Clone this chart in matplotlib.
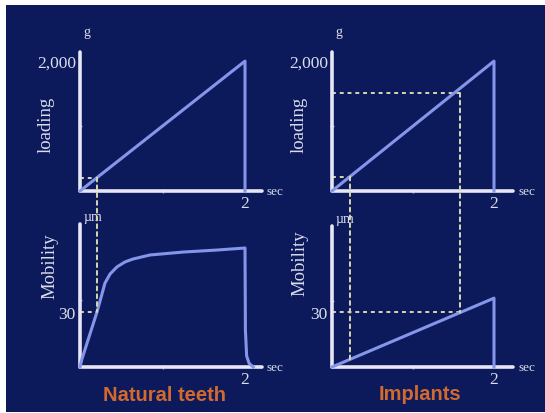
import numpy as np
import matplotlib
matplotlib.use("Agg")
import matplotlib.pyplot as plt
from matplotlib.patches import Rectangle, ConnectionPatch

# loading curve (same for both columns)
load_t = [0, 2.0, 2.0]
load_g = [0, 2000, 0]

# natural tooth mobility (um) vs time (sec)
nat_t = [0, 0.024, 0.206, 0.303, 0.364, 0.448, 0.545, 0.642, 0.848, 1.25, 1.66, 2.0,
         2.005, 2.02, 2.05, 2.1]
nat_um = [0, 4.4, 30, 45.8, 50.7, 54.6, 57.3, 58.9, 61.1, 62.7, 63.8, 64.9,
          20, 6, 2, 0]

# implant mobility
imp_t = [0, 2.0, 2.0]
imp_um = [0, 37.6, 0]

# guide lines: (time, load, mobility)
nat_guide = [(0.206, 206, 30)]
imp_guide = [(0.222, 222, 4.2), (1.58, 1510, 29.7)]

titles = ["Natural teeth", "Implants"]

BG = "#0c1a5c"
AXC = "#e6e6f4"
CURVE = "#8595ea"
DASH = "#d8d8b0"
TXT = "#dcdcec"
ORANGE = "#d2692e"
SERIF = "Liberation Serif"

W, H = 545, 414
fig = plt.figure(figsize=(W / 100, H / 100), dpi=100)
fig.patch.set_facecolor("white")
fig.patches.append(Rectangle((6 / W, 1 / H), 1 - 6 / W, (413 - 6) / H,
                             transform=fig.transFigure, facecolor=BG,
                             edgecolor="none", zorder=-10))


def px_axes(x0, y_top, w, h):
    return fig.add_axes([x0 / W, (H - y_top - h) / H, w / W, h / H])


def style(ax, xmax, ymax, ytick, ylab, unit, ylabel, lab_xy, unit_y):
    ax.set_facecolor("none")
    ax.set_xlim(0, xmax)
    ax.set_ylim(0, ymax)
    for s in ["top", "right"]:
        ax.spines[s].set_visible(False)
    for s in ["left", "bottom"]:
        ax.spines[s].set_color(AXC)
        ax.spines[s].set_linewidth(2.6)
        ax.spines[s].set_capstyle("round")
    ax.set_xticks([2])
    ax.set_xticklabels(["2"])
    ax.set_yticks([ytick])
    ax.set_yticklabels([ylab])
    ax.set_xticks([1], minor=True)
    ax.set_yticks([ymax * 0.47], minor=True)
    ax.tick_params(which="major", length=0, pad=3, labelcolor=TXT, labelsize=12.5)
    ax.tick_params(which="minor", length=3, width=1, direction="inout", color="#9aa0d0")
    for lab in ax.get_xticklabels() + ax.get_yticklabels():
        lab.set_fontfamily(SERIF)
    ax.text(0.02, unit_y, unit, transform=ax.transAxes, color=TXT,
            fontsize=10, family=SERIF, ha="left", va="bottom")
    ax.text(1.03, 0.0, "sec", transform=ax.transAxes, color=TXT,
            fontsize=9.5, family=SERIF, ha="left", va="center")
    ax.set_ylabel(ylabel, color=TXT, fontsize=13.5, family=SERIF)
    ax.yaxis.set_label_coords(*lab_xy)


cols = [(80, 82.5, 2.2), (332, 81, 2.23)]
title_x = [0.468, 0.487]
for i, (x0, sx, xmax) in enumerate(cols):
    top = px_axes(x0, 53, xmax * sx, 139)
    bot = px_axes(x0, 225 if i == 0 else 227, xmax * sx, 143 if i == 0 else 141)
    style(top, xmax, 2140, 2000, "2,000", "g", "loading",
          (-0.138 if i == 0 else -0.133, 0.48), 1.1)
    style(bot, xmax, 78 if i == 0 else 77, 30, "30", "\u00b5m", "Mobility",
          (-0.12 if i == 0 else -0.133, 0.71 if i == 0 else 0.74), 1.01)
    top.plot(load_t, load_g, color=CURVE, lw=2.2, clip_on=False, zorder=3)
    if i == 0:
        bot.plot(nat_t, nat_um, color=CURVE, lw=2.2, clip_on=False, zorder=3)
        guides = nat_guide
    else:
        bot.plot(imp_t, imp_um, color=CURVE, lw=2.2, clip_on=False, zorder=3)
        guides = imp_guide
    for t, g, m in guides:
        top.plot([0, t], [g, g], color=DASH, lw=1.4, ls=(0, (2, 2)), zorder=2)
        con = ConnectionPatch(xyA=(t, g), coordsA=top.transData,
                              xyB=(t, m), coordsB=bot.transData,
                              color=DASH, lw=1.4, ls=(0, (2, 2)), zorder=2)
        fig.add_artist(con)
    # horizontal guide at 30 um
    t30 = guides[-1][0]
    bot.plot([0, t30], [30, 30], color=DASH, lw=1.4, ls=(0, (2, 2)), zorder=2)
    bot.text(title_x[i], -0.19, titles[i], transform=bot.transAxes,
             color=ORANGE, fontsize=14.5, fontweight="bold", family="Liberation Sans",
             ha="center", va="center")

fig.savefig("out.png", dpi=100, facecolor=fig.get_facecolor())
